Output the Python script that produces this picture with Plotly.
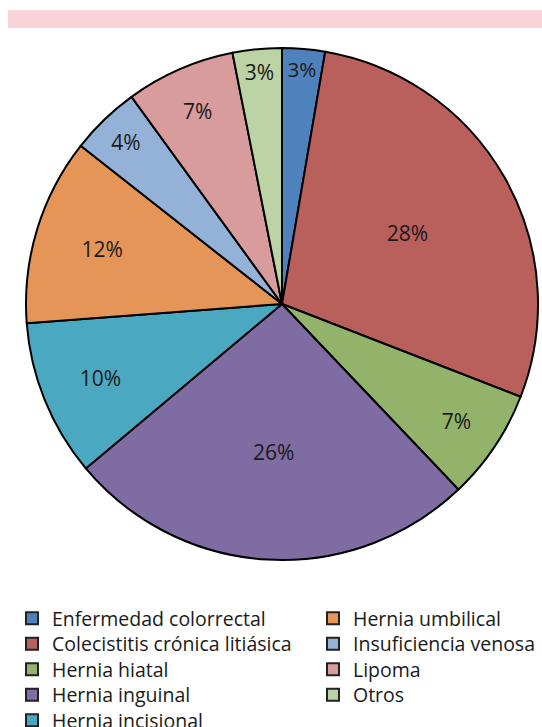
import plotly.graph_objects as go

categories = ["Enfermedad colorrectal", "Colecistitis crónica litiásica", "Hernia hiatal",
              "Hernia inguinal", "Hernia incisional", "Hernia umbilical",
              "Insuficiencia venosa", "Lipoma", "Otros"]
values = [2.7, 28.2, 7.0, 26.0, 9.9, 11.8, 4.4, 6.9, 3.1]
colors = ["#4F81BD", "#B95F5C", "#93B36A", "#7F6CA2", "#4AA8C1",
          "#E59557", "#94B1D8", "#D89C9D", "#BBD3A5"]

FONT = "Open Sans"
W, H = 542, 727

fig = go.Figure()
fig.add_trace(go.Pie(
    labels=categories, values=values, sort=False, direction="clockwise", rotation=0,
    marker=dict(colors=colors, line=dict(color="black", width=2)),
    textinfo="percent", texttemplate="%{percent:.0%}",
    textposition="inside", insidetextorientation="horizontal",
    textfont=dict(family=FONT, size=21, color="#1a1a1a"),
    showlegend=False, hoverinfo="label+percent",
    domain=dict(x=[(282 - 256) / W, (282 + 256) / W], y=[1 - 560 / H, 1 - 48 / H]),
))

# legend: two columns, column-major as in the reference; one legend box per row
ROW0, ROWGAP, TOPOFF = 618, 25.5, 19
COLX = [12, 313]
layout_legends = {}
for i, (c, col) in enumerate(zip(categories, colors)):
    key = "legend" if i == 0 else f"legend{i + 1}"
    colno, rowno = (0, i) if i < 5 else (1, i - 5)
    fig.add_trace(go.Scatter(
        x=[None], y=[None], mode="markers", name=c,
        marker=dict(symbol="square", size=15, color=col, line=dict(color="#222222", width=1.5)),
        legend=key,
    ))
    layout_legends[key] = dict(
        font=dict(family=FONT, size=19.5, color="#1a1a1a"), bgcolor="rgba(0,0,0,0)",
        orientation="v", yanchor="top", xanchor="left", itemsizing="constant",
        x=COLX[colno] / W, y=1 - (ROW0 + rowno * ROWGAP - TOPOFF) / H,
    )

fig.update_layout(
    width=W, height=H, margin=dict(l=0, r=0, t=0, b=0, autoexpand=False),
    paper_bgcolor="white", plot_bgcolor="white",
    xaxis=dict(visible=False), yaxis=dict(visible=False),
    shapes=[dict(type="rect", xref="paper", yref="paper", x0=8 / W, x1=1,
                 y0=1 - 28 / H, y1=1 - 10 / H, fillcolor="#F8D3D7", line=dict(width=0), layer="below")],
    **layout_legends,
)
fig.write_html("out.html")
